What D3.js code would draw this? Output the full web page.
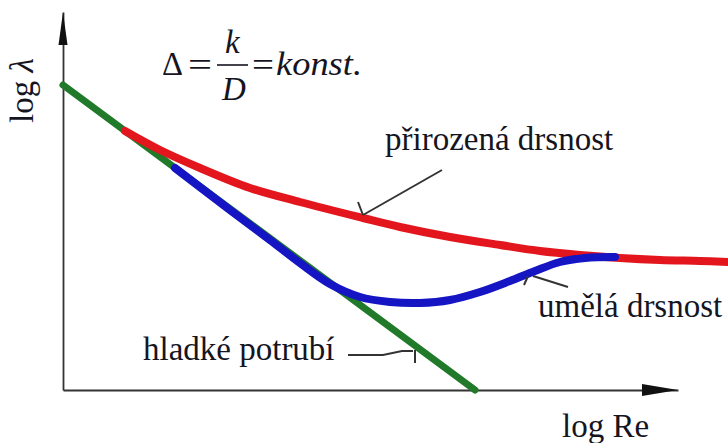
<!DOCTYPE html>
<html>
<head>
<meta charset="utf-8">
<script src="https://cdn.jsdelivr.net/npm/d3@7"></script>
<style>
  html, body { margin: 0; padding: 0; background: #fff; }
  svg { display: block; }
</style>
</head>
<body>
<div id="chart"></div>
<script>
// krivky v jednotkach log Re / log lambda (bez stupnice)
const smoothPipe = [[0, 6.1], [8.24, 0]];

const naturalRough = [
  [1.24, 5.18], [1.94, 4.8], [2.74, 4.44], [3.74, 4.04], [4.74, 3.76],
  [6.0, 3.44], [6.74, 3.26], [7.74, 3.06], [8.74, 2.9], [9.54, 2.78],
  [10.34, 2.7], [11.14, 2.64], [11.94, 2.6], [12.74, 2.58], [13.3, 2.56]
];

const artificialRough = [
  [2.24, 4.44], [3.34, 3.6], [4.14, 3.0], [4.74, 2.54], [5.34, 2.12],
  [5.94, 1.86], [6.54, 1.76], [7.14, 1.74], [7.74, 1.8], [8.34, 1.96],
  [8.94, 2.18], [9.44, 2.38], [9.94, 2.56], [10.44, 2.64], [11.04, 2.66]
];

const curveLabels = ["přirozená drsnost", "umělá drsnost", "hladké potrubí"];
const axisLabels = ["log Re", "log "];

const width = 728, height = 443;
const serif = "'Liberation Serif', 'Times New Roman', Times, 'DejaVu Serif', serif";
const ink = "#15151f";

const svg = d3.select("#chart").append("svg")
  .attr("width", width)
  .attr("height", height)
  .attr("font-family", serif);

const x = d3.scaleLinear().domain([0, 12.3]).range([63, 678]);
const y = d3.scaleLinear().domain([0, 7.56]).range([390, 12]);

// osy bez dilku
svg.append("g")
  .attr("transform", `translate(0,${y(0)})`)
  .call(d3.axisBottom(x).ticks(0).tickSizeOuter(0))
  .call(g => g.select(".domain").attr("stroke", "#333").attr("stroke-width", 1.8));

svg.append("g")
  .attr("transform", `translate(${x(0)},0)`)
  .call(d3.axisLeft(y).ticks(0).tickSizeOuter(0))
  .call(g => g.select(".domain").attr("stroke", "#333").attr("stroke-width", 1.8));

// sipky na koncich os
svg.append("path")
  .attr("d", `M${x(12.3)},${y(0)} L${x(11.58)},${y(0) - 6} L${x(11.58)},${y(0) + 6} Z`)
  .attr("fill", "#111");
svg.append("path")
  .attr("d", `M${x(0)},${y(7.56)} L${x(0) - 4.5},${y(6.9)} L${x(0) + 4.5},${y(6.9)} Z`)
  .attr("fill", "#111");

const line = d3.line()
  .x(d => x(d[0]))
  .y(d => y(d[1]))
  .curve(d3.curveCatmullRom.alpha(0.5));

svg.append("path")
  .datum(smoothPipe)
  .attr("d", line)
  .attr("fill", "none")
  .attr("stroke", "#21792a")
  .attr("stroke-width", 7)
  .attr("stroke-linecap", "round");

svg.append("path")
  .datum(naturalRough)
  .attr("d", line)
  .attr("fill", "none")
  .attr("stroke", "#e3161e")
  .attr("stroke-width", 8)
  .attr("stroke-linecap", "round");

svg.append("path")
  .datum(artificialRough)
  .attr("d", line)
  .attr("fill", "none")
  .attr("stroke", "#1515c4")
  .attr("stroke-width", 8)
  .attr("stroke-linecap", "round");

// odkazove cary k popiskum
const leaders = [
  [[7.58, 4.4], [6.0, 3.5]],
  [[6.0, 3.5], [5.9, 3.76]],
  [[10.1, 2.06], [9.4, 2.28]],
  [[9.3, 2.28], [9.22, 2.1]],
  [[5.7, 0.7], [6.4, 0.7], [6.78, 0.78], [7.0, 0.78]],
  [[7.04, 0.8], [7.04, 0.54]]
];
const straight = d3.line().x(d => x(d[0])).y(d => y(d[1]));
svg.selectAll(".leader")
  .data(leaders)
  .join("path")
  .attr("class", "leader")
  .attr("d", straight)
  .attr("fill", "none")
  .attr("stroke", "#333")
  .attr("stroke-width", 2);

const labelPos = [[6.44, 4.8], [9.5, 1.46], [1.6, 0.6]];
svg.selectAll(".clabel")
  .data(curveLabels)
  .join("text")
  .attr("class", "clabel")
  .attr("x", (d, i) => x(labelPos[i][0]))
  .attr("y", (d, i) => y(labelPos[i][1]))
  .attr("font-family", serif)
  .attr("font-size", 33)
  .attr("fill", ink)
  .text(d => d);

// popisky os
svg.append("text")
  .attr("x", 562)
  .attr("y", 437)
  .attr("font-family", serif)
  .attr("font-size", 33)
  .attr("fill", ink)
  .text(axisLabels[0]);

const yl = svg.append("text")
  .attr("transform", "translate(33,123) rotate(-90)")
  .attr("font-family", serif)
  .attr("font-size", 33)
  .attr("fill", ink);
yl.append("tspan").text(axisLabels[1]);
yl.append("tspan").attr("font-style", "italic").text("λ");

// vzorec
const f = svg.append("g")
  .attr("font-family", serif)
  .attr("font-size", 33)
  .attr("fill", ink);
f.append("text").attr("x", 162).attr("y", 75).attr("textLength", 21).attr("lengthAdjust", "spacingAndGlyphs").text("Δ");
f.append("text").attr("x", 188).attr("y", 76).attr("textLength", 24).attr("lengthAdjust", "spacingAndGlyphs").text("=");
f.append("text").attr("x", 225).attr("y", 53).attr("font-style", "italic").text("k");
f.append("line").attr("x1", 217).attr("x2", 248).attr("y1", 65).attr("y2", 65)
  .attr("stroke", ink).attr("stroke-width", 1.6);
f.append("text").attr("x", 222).attr("y", 100).attr("font-style", "italic").text("D");
f.append("text").attr("x", 252).attr("y", 76).attr("textLength", 22).attr("lengthAdjust", "spacingAndGlyphs").text("=");
f.append("text").attr("x", 276).attr("y", 75).attr("font-style", "italic").attr("textLength", 86).attr("lengthAdjust", "spacingAndGlyphs").text("konst.");
</script>
</body>
</html>
